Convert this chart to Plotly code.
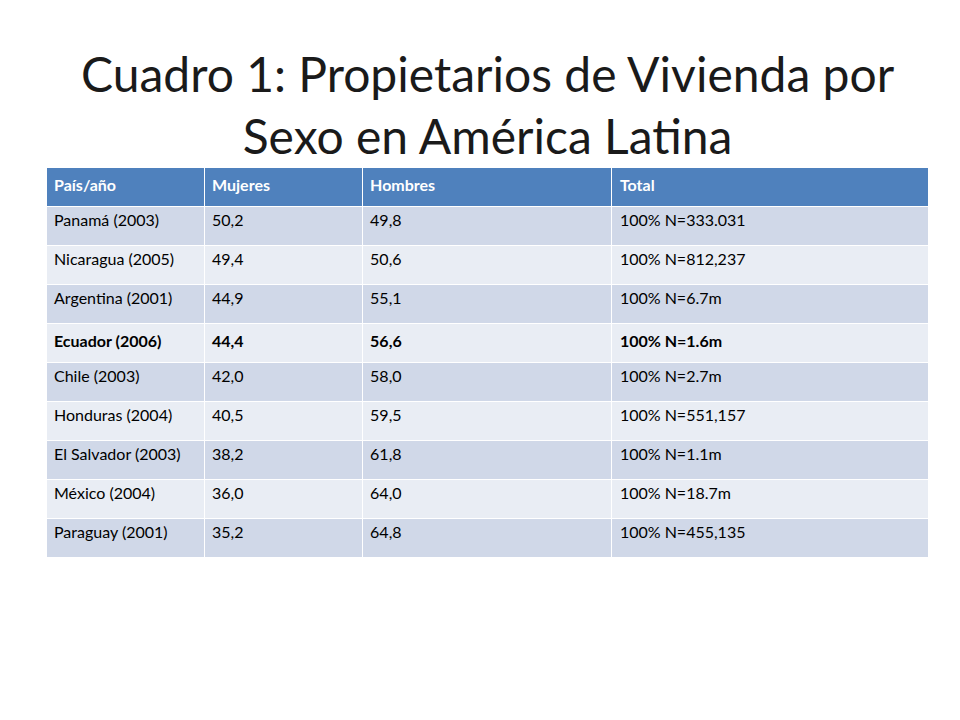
import plotly.graph_objects as go

header = ["País/año", "Mujeres", "Hombres", "Total"]
paises = ["Panamá (2003)", "Nicaragua (2005)", "Argentina (2001)", "Ecuador (2006)",
          "Chile (2003)", "Honduras (2004)", "El Salvador (2003)", "México (2004)",
          "Paraguay (2001)"]
mujeres = ["50,2", "49,4", "44,9", "44,4", "42,0", "40,5", "38,2", "36,0", "35,2"]
hombres = ["49,8", "50,6", "55,1", "56,6", "58,0", "59,5", "61,8", "64,0", "64,8"]
total = ["100% N=333.031", "100% N=812,237", "100% N=6.7m", "100% N=1.6m",
         "100% N=2.7m", "100% N=551,157", "100% N=1.1m", "100% N=18.7m",
         "100% N=455,135"]
bold_row = 3

def mark(col):
    return ["<b>%s</b>" % v if i == bold_row else v for i, v in enumerate(col)]

fills = ["#D0D8E8" if i % 2 == 0 else "#E9EDF4" for i in range(len(paises))]

fig = go.Figure(go.Table(
    domain=dict(x=[38/960, 921/960], y=[0.2, 1 - 159/720]),
    columnwidth=[155, 155, 245, 311],
    header=dict(values=["<b>%s</b>" % h for h in header], fill_color="#4F81BD",
                font=dict(color="white", size=16, family="Lato"),
                align="left", height=39, line=dict(color="white", width=1)),
    cells=dict(values=[mark(paises), mark(mujeres), mark(hombres), mark(total)],
               fill_color=[fills] * 4,
               font=dict(color="black", size=16, family="Lato"),
               align="left", height=39, line=dict(color="white", width=1)),
))

fig.add_annotation(text="Cuadro 1: Propietarios de Vivienda por<br>Sexo en América Latina",
                   x=0.5, y=1 - 97/720, xref="paper", yref="paper", showarrow=False,
                   xanchor="center", yanchor="middle",
                   font=dict(size=48, family="Lato", color="#1a1a1a"))

fig.update_layout(width=960, height=720, margin=dict(l=0, r=0, t=0, b=0),
                  paper_bgcolor="white", plot_bgcolor="white")
fig.write_html("out.html")
